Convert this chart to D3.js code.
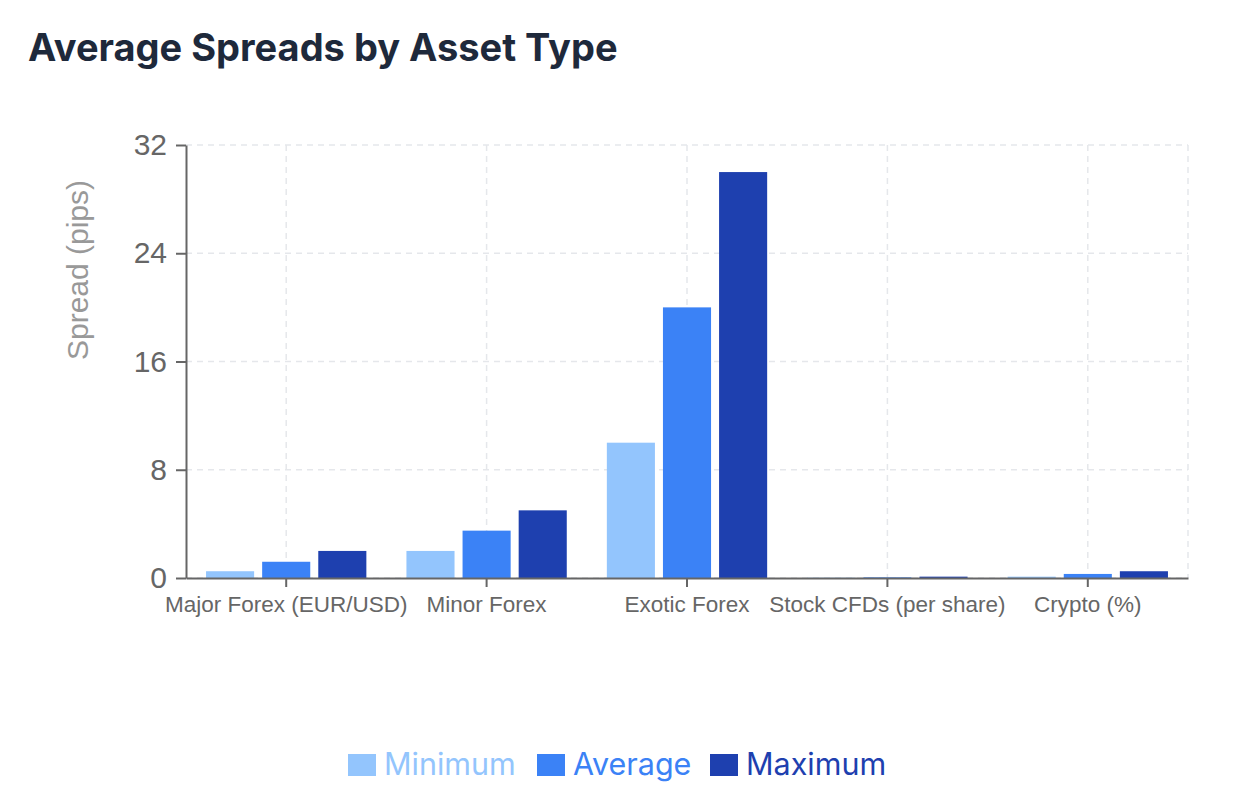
<!DOCTYPE html>
<html lang="en">
<head>
<meta charset="UTF-8">
<title>Average Spreads by Asset Type</title>
<script src="https://d3js.org/d3.v7.min.js"></script>
<style>
    body { margin: 0; background: #fff; }
    svg { display: block; }
</style>
</head>
<body>
<svg id="chart" width="1237" height="810"></svg>
<script>
    // data
    const categories = ["Major Forex (EUR/USD)", "Minor Forex", "Exotic Forex", "Stock CFDs (per share)", "Crypto (%)"];
    const seriesNames = ["Minimum", "Average", "Maximum"];
    const minimumValues = [0.5, 2, 10, 0.02, 0.1];
    const averageValues = [1.2, 3.5, 20, 0.05, 0.3];
    const maximumValues = [2, 5, 30, 0.1, 0.5];
    const yTicks = [0, 8, 16, 24, 32];

    const seriesValues = [minimumValues, averageValues, maximumValues];
    const colors = ["#93c5fd", "#3b82f6", "#1e40af"];

    const svg = d3.select("#chart");
    const plotLeft = 186, plotRight = 1188, plotTop = 145, plotBottom = 578;

    // title
    svg.append("text")
        .attr("x", 28)
        .attr("y", 61)
        .attr("font-family", "Inter, sans-serif")
        .attr("font-weight", 700)
        .attr("font-size", 38)
        .attr("fill", "#1e293b")
        .text("Average Spreads by Asset Type");

    const x = d3.scaleBand().domain(categories).range([plotLeft, plotRight]).paddingInner(0).paddingOuter(0);
    const xInner = d3.scaleBand().domain(seriesNames)
        .range([x.bandwidth() * 0.1, x.bandwidth() * 0.9])
        .paddingInner(0.143).paddingOuter(0);
    const y = d3.scaleLinear().domain([0, 32]).range([plotBottom, plotTop]);

    // grid
    const grid = svg.append("g");
    yTicks.forEach(t => {
        grid.append("line")
            .attr("x1", plotLeft).attr("x2", plotRight)
            .attr("y1", y(t)).attr("y2", y(t))
            .attr("stroke", "#e5e7eb").attr("stroke-width", 1.5)
            .attr("stroke-dasharray", "6,5");
    });
    categories.forEach(c => {
        grid.append("line")
            .attr("x1", x(c) + x.bandwidth() / 2).attr("x2", x(c) + x.bandwidth() / 2)
            .attr("y1", plotTop).attr("y2", plotBottom)
            .attr("stroke", "#e5e7eb").attr("stroke-width", 1.5)
            .attr("stroke-dasharray", "6,5");
    });
    grid.append("line")
        .attr("x1", plotRight).attr("x2", plotRight)
        .attr("y1", plotTop).attr("y2", plotBottom)
        .attr("stroke", "#e5e7eb").attr("stroke-width", 1.5)
        .attr("stroke-dasharray", "6,5");

    // bars
    seriesNames.forEach((s, si) => {
        svg.append("g").selectAll("rect")
            .data(seriesValues[si])
            .join("rect")
            .attr("x", (d, i) => x(categories[i]) + xInner(s))
            .attr("y", d => y(d))
            .attr("width", xInner.bandwidth())
            .attr("height", d => plotBottom - y(d))
            .attr("fill", colors[si]);
    });

    // y axis
    const yAxis = svg.append("g")
        .attr("transform", `translate(${plotLeft},0)`)
        .call(d3.axisLeft(y).tickValues(yTicks).tickSize(10).tickPadding(9).tickSizeOuter(0));
    yAxis.select(".domain").attr("stroke", "#666").attr("stroke-width", 2);
    yAxis.selectAll(".tick line").attr("stroke", "#666").attr("stroke-width", 2);
    yAxis.selectAll(".tick text")
        .attr("font-family", "Liberation Sans, Arial, sans-serif")
        .attr("font-size", 30)
        .attr("fill", "#666");

    // x axis
    const xAxis = svg.append("g")
        .attr("transform", `translate(0,${plotBottom})`)
        .call(d3.axisBottom(x).tickSize(9).tickPadding(9).tickSizeOuter(0));
    xAxis.select(".domain").attr("stroke", "#666").attr("stroke-width", 2);
    xAxis.selectAll(".tick line").attr("stroke", "#666").attr("stroke-width", 2);
    xAxis.selectAll(".tick text")
        .attr("font-family", "Liberation Sans, Arial, sans-serif")
        .attr("font-size", 22.5)
        .attr("fill", "#666");

    // y label
    svg.append("text")
        .attr("transform", "translate(88,270) rotate(-90)")
        .attr("text-anchor", "middle")
        .attr("font-family", "Liberation Sans, Arial, sans-serif")
        .attr("font-size", 30)
        .attr("fill", "#999")
        .text("Spread (pips)");

    // legend
    const legendX = [348, 537, 710];
    seriesNames.forEach((s, si) => {
        svg.append("rect")
            .attr("x", legendX[si]).attr("y", 754)
            .attr("width", 28).attr("height", 22)
            .attr("fill", colors[si]);
        svg.append("text")
            .attr("x", legendX[si] + 36).attr("y", 775)
            .attr("font-family", "Inter, sans-serif")
            .attr("font-size", 30.5)
            .attr("fill", colors[si])
            .text(s);
    });
</script>
</body>
</html>
